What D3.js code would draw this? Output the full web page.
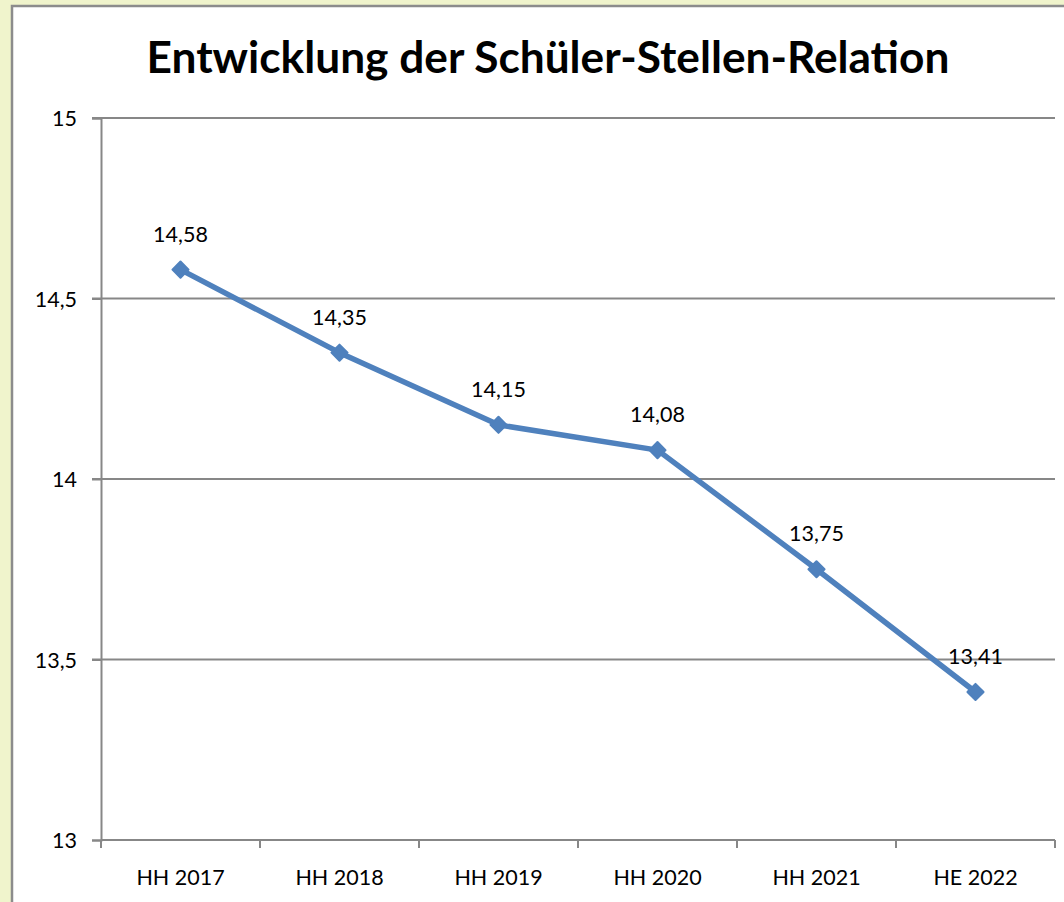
<!DOCTYPE html>
<html>
<head>
<meta charset="utf-8">
<script src="https://cdn.jsdelivr.net/npm/d3@7"></script>
<style>
  body { margin: 0; background: #f0f4cc; }
  svg { display: block; }
</style>
</head>
<body>
<svg id="chart"></svg>
<script>
// ---------------- Data ----------------
var categories = ["HH 2017", "HH 2018", "HH 2019", "HH 2020", "HH 2021", "HE 2022"];
var values = [14.58, 14.35, 14.15, 14.08, 13.75, 13.41];
var yTicks = [13, 13.5, 14, 14.5, 15];
var title = "Entwicklung der Schüler-Stellen-Relation";

// ---------------- Layout ----------------
var width = 1064, height = 902;
var font = "Lato, 'Open Sans', sans-serif";
var plot = {left: 101, right: 1055, top: 118, bottom: 840};

var svg = d3.select('#chart')
    .attr('width', width)
    .attr('height', height);

// chart frame (white area, runs off the right and bottom edge)
svg.append('rect')
    .attr('x', 12).attr('y', 6)
    .attr('width', width + 20).attr('height', height + 20)
    .attr('fill', 'white')
    .attr('stroke', '#8c8c8c')
    .attr('stroke-width', 2.5);

// title, fitted to the width seen in the picture
var t = svg.append('text')
    .text(title)
    .attr('x', 548).attr('y', 73)
    .attr('text-anchor', 'middle')
    .style('font-family', font)
    .style('font-weight', 'bold')
    .style('font-size', '40px')
    .style('fill', '#000');
var tw = t.node().getComputedTextLength();
t.style('font-size', (40 * 803 / tw) + 'px');

// scales
var x = d3.scaleBand()
    .domain(categories)
    .range([plot.left, plot.right]);

var y = d3.scaleLinear()
    .domain([13, 15])
    .range([plot.bottom, plot.top]);

// gridlines
svg.append('g')
    .selectAll('line')
    .data(yTicks.filter(d => d !== 13))
    .enter()
    .append('line')
        .attr('x1', plot.left - 9).attr('x2', plot.right)
        .attr('y1', d => y(d)).attr('y2', d => y(d))
        .attr('stroke', '#878787')
        .attr('stroke-width', 2);

// y axis
var yAxis = svg.append('g')
    .attr('transform', `translate(${plot.left},0)`)
    .call(d3.axisLeft(y).tickValues(yTicks).tickSize(9).tickPadding(15)
        .tickFormat(d => String(d).replace('.', ',')));

// x axis
var xAxis = svg.append('g')
    .attr('transform', `translate(0,${plot.bottom})`)
    .call(d3.axisBottom(x).tickSize(0).tickPadding(30));

// category boundary ticks
svg.append('g')
    .selectAll('line')
    .data(categories.concat(['end']))
    .enter()
    .append('line')
        .attr('x1', (d, i) => plot.left + i * x.step())
        .attr('x2', (d, i) => plot.left + i * x.step())
        .attr('y1', plot.bottom).attr('y2', plot.bottom + 8)
        .attr('stroke', '#878787')
        .attr('stroke-width', 2);

[yAxis, xAxis].forEach(function(ax){
    ax.selectAll('path.domain, line')
        .attr('stroke', '#878787')
        .attr('stroke-width', 2);
    ax.selectAll('text')
        .style('font-family', font)
        .style('font-size', '21.5px')
        .style('fill', '#000');
});
yAxis.selectAll('text').attr('dy', '0.35em');
xAxis.select('path.domain').attr('d', `M${plot.left},0H${plot.right}`);

// line
var points = categories.map((c, i) => ({cat: c, value: values[i]}));

svg.append('path')
    .datum(points)
    .attr('fill', 'none')
    .attr('stroke', '#4f81bd')
    .attr('stroke-width', 5.5)
    .attr('stroke-linejoin', 'round')
    .attr('d', d3.line()
        .x(d => x(d.cat) + x.bandwidth() / 2)
        .y(d => y(d.value)));

// markers
svg.append('g')
    .selectAll('path')
    .data(points)
    .enter()
    .append('path')
        .attr('d', d3.symbol().type(d3.symbolSquare).size(130))
        .attr('transform', d => `translate(${x(d.cat) + x.bandwidth() / 2},${y(d.value)}) rotate(45)`)
        .attr('fill', '#4f81bd')
        .attr('stroke', '#4f81bd')
        .attr('stroke-width', 2)
        .attr('stroke-linejoin', 'round');

// data labels
svg.append('g')
    .selectAll('text')
    .data(points)
    .enter()
    .append('text')
        .text(d => d.value.toFixed(2).replace('.', ','))
        .attr('x', d => x(d.cat) + x.bandwidth() / 2)
        .attr('y', d => y(d.value) - 28)
        .attr('text-anchor', 'middle')
        .style('font-family', font)
        .style('font-size', '21.5px')
        .style('fill', '#000');
</script>
</body>
</html>
